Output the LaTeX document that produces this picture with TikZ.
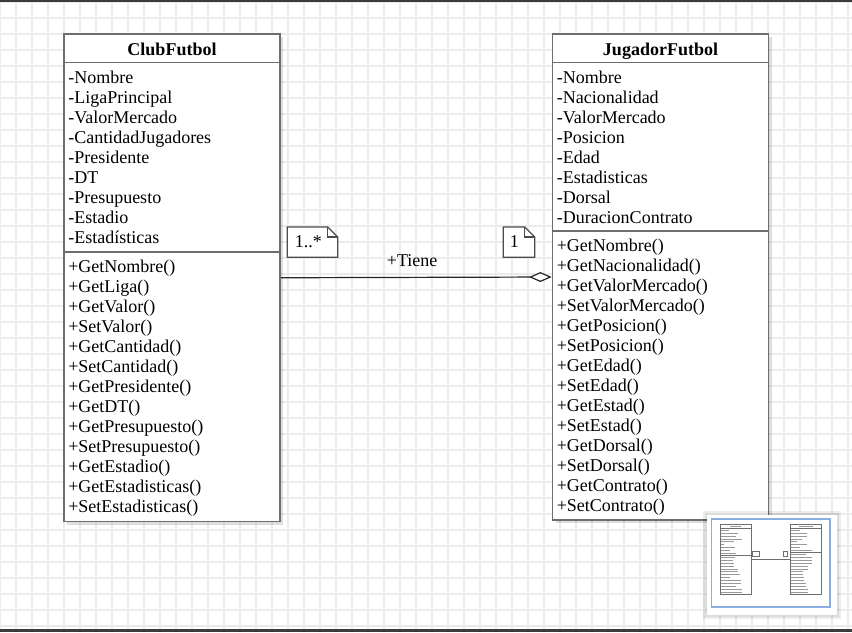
\documentclass[tikz,border=0pt]{standalone}
\usepackage{fontspec}
\setmainfont{Liberation Serif}
\usetikzlibrary{arrows.meta,shadows}

\definecolor{boxgray}{HTML}{6E6E6E}
\definecolor{gridgray}{HTML}{EBEBEB}
\definecolor{barcol}{HTML}{3B3B3B}
\definecolor{viewblue}{HTML}{8AAEE0}

\tikzset{
  gridline/.style={draw=gridgray, line width=0.9pt},
  classbox/.style={draw=boxgray, line width=1.2pt, fill=white, inner sep=0pt,
    drop shadow={shadow xshift=2.5pt, shadow yshift=-2.5pt, opacity=0.13, fill=black}},
  classline/.style={draw=boxgray, line width=1.2pt},
  classname/.style={font=\bfseries\fontsize{13.5}{15}\selectfont, anchor=base, inner sep=0pt},
  member/.style={font=\fontsize{13.5}{15}\selectfont, anchor=base west, inner sep=0pt},
  assoclabel/.style={font=\fontsize{13.5}{15}\selectfont, anchor=base, inner sep=0pt},
  notebox/.style={inner sep=0pt, anchor=north west},
  noteline/.style={draw=black!70, line width=0.9pt, fill=white},
  assoc/.style={draw=black!85, line width=0.9pt, -{Diamond[fill=white, length=17pt, width=7.5pt]}},
  thumb/.style={draw=boxgray, line width=0.5pt, fill=white},
  thumbtext/.style={draw=gray!80, line width=0.7pt},
}

% folded corner of a note
\newcommand{\drawnote}[1]{%
  \draw[noteline] (#1.north west) -- ([xshift=-7.5pt]#1.north east)
    -- ([yshift=-7.5pt]#1.north east) -- (#1.south east) -- (#1.south west) -- cycle;
  \draw[noteline, fill=none] ([xshift=-7.5pt]#1.north east) |- ([yshift=-7.5pt]#1.north east);
}

\begin{document}
\begin{tikzpicture}[x=0.75pt, y=-0.75pt]

\useasboundingbox (0,0) rectangle (852,632);
\fill[white] (0,0) rectangle (852,632);

% grid
\foreach \gx in {0,16,...,848} \draw[gridline] (\gx,0) -- (\gx,632);
\foreach \gy in {2,18,...,626} \draw[gridline] (0,\gy) -- (852,\gy);

\fill[barcol] (0,0) rectangle (852,2);
\fill[barcol] (0,629) rectangle (852,632);

% classes
\node[classbox, minimum width=162pt, minimum height=365.6pt] (club) at (172,277.75) {};
\node[classbox, minimum width=162pt, minimum height=364.5pt] (jugador) at (660.5,277) {};

\node[classname] (club-name) at (172,55) {ClubFutbol};
\node[classname] (jugador-name) at (660.5,55) {JugadorFutbol};

\draw[classline] ([yshift=-22.1pt]club.north west) -- ([yshift=-22.1pt]club.north east);
\draw[classline] ([yshift=-163.9pt]club.north west) -- ([yshift=-163.9pt]club.north east);
\draw[classline] ([yshift=-22.1pt]jugador.north west) -- ([yshift=-22.1pt]jugador.north east);
\draw[classline] ([yshift=-148.5pt]jugador.north west) -- ([yshift=-148.5pt]jugador.north east);

\foreach \m [count=\i] in {-Nombre,-LigaPrincipal,-ValorMercado,-CantidadJugadores,
    -Presidente,-DT,-Presupuesto,-Estadio,-Estadísticas}
  \node[member] (club-a\i) at (68,{63.5+20*\i}) {\m};
\foreach \m [count=\i] in {+GetNombre(),+GetLiga(),+GetValor(),+SetValor(),+GetCantidad(),
    +SetCantidad(),+GetPresidente(),+GetDT(),+GetPresupuesto(),+SetPresupuesto(),
    +GetEstadio(),+GetEstadisticas(),+SetEstadisticas()}
  \node[member] (club-m\i) at (68,{252+20*\i}) {\m};

\foreach \m [count=\i] in {-Nombre,-Nacionalidad,-ValorMercado,-Posicion,-Edad,
    -Estadisticas,-Dorsal,-DuracionContrato}
  \node[member] (jugador-a\i) at (556.5,{63.5+20*\i}) {\m};
\foreach \m [count=\i] in {+GetNombre(),+GetNacionalidad(),+GetValorMercado(),
    +SetValorMercado(),+GetPosicion(),+SetPosicion(),+GetEdad(),+SetEdad(),+GetEstad(),
    +SetEstad(),+GetDorsal(),+SetDorsal(),+GetContrato(),+SetContrato()}
  \node[member] (jugador-m\i) at (556.5,{231.5+20*\i}) {\m};

% association
\draw[assoc] (club.east) -- node[assoclabel, pos=0.485, yshift=8.5pt] (tiene) {+Tiene} (jugador.west);

% multiplicities
\node[notebox, minimum width=37.5pt, minimum height=22.25pt] (many) at (287.3,227) {};
\drawnote{many}
\node[member] (many-text) at (294.5,247.5) {1..*};
\node[notebox, minimum width=23.25pt, minimum height=22.25pt] (one) at (503.3,227) {};
\drawnote{one}
\node[member] (one-text) at (509.5,247.5) {1};

% outline view
\fill[black, opacity=0.07] (703,511) rectangle (841,619);
\fill[black, opacity=0.07] (705,513) rectangle (839,617);
\fill[white] (706.7,515) rectangle (836.7,615);
\draw[viewblue, line width=0.9pt] (711.7,519) rectangle (830,607);

\draw[thumb] (720,524) rectangle (751.1,594.2);
\draw[thumb] (790.3,524) rectangle (821.4,594);
\draw[thumb] (720,528.2) -- (751.1,528.2);
\draw[thumb] (720,555.5) -- (751.1,555.5);
\draw[thumb] (790.3,528.2) -- (821.4,528.2);
\draw[thumb] (790.3,552.5) -- (821.4,552.5);
\draw[thumbtext] (730,526.2) -- (741,526.2);
\draw[thumbtext] (799,526.2) -- (812.5,526.2);
\draw[thumb] (751.1,559) -- (790.3,559);
\draw[thumb] (752.2,551.6) rectangle (759.4,556);
\draw[thumb] (783.3,551.6) rectangle (787.8,556);

\foreach \n [count=\i] in {7,14,13,18,11,3,12,8,13}
  \draw[thumbtext] (720.8,{524+(24.5+20*\i)*0.144}) -- ++({\n*1.2},0);
\foreach \n [count=\i] in {12,10,11,11,14,14,16,8,17,17,13,18,18}
  \draw[thumbtext] (720.8,{524+(213+20*\i)*0.144}) -- ++({\n*1.2},0);
\foreach \n [count=\i] in {7,13,13,9,5,13,7,17}
  \draw[thumbtext] (791.1,{524+(24.5+20*\i)*0.144}) -- ++({\n*1.2},0);
\foreach \n [count=\i] in {12,17,17,17,14,14,10,10,11,11,12,12,14,14}
  \draw[thumbtext] (791.1,{524+(192.5+20*\i)*0.144}) -- ++({\n*1.2},0);

\end{tikzpicture}
\end{document}
